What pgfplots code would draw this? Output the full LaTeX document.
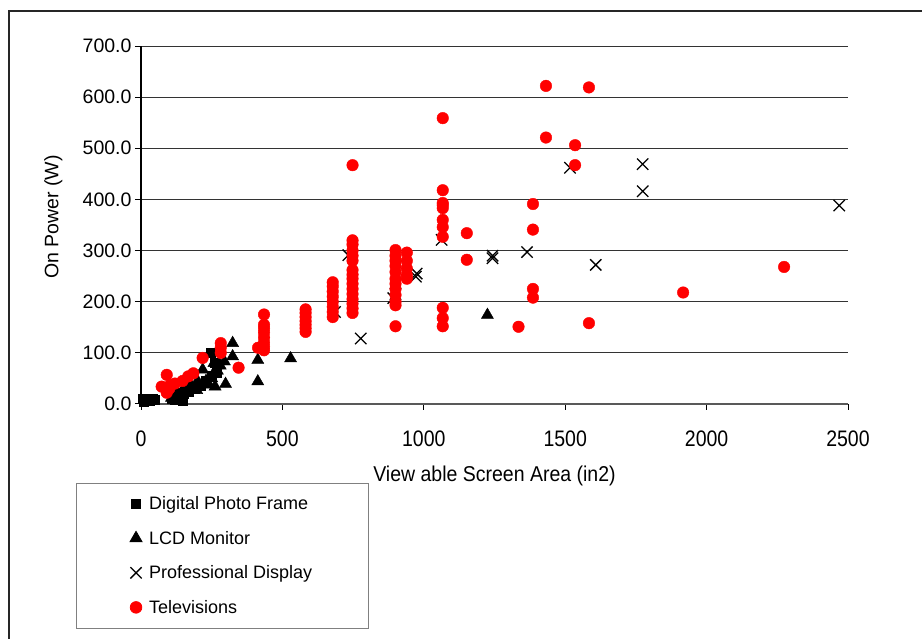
\documentclass[border=0pt]{standalone}
\usepackage{fontspec}
\setmainfont{Liberation Sans}
\usepackage{pgfplots}
\pgfplotsset{compat=1.18}

\begin{document}
\begin{tikzpicture}[x=1pt,y=1pt]
\draw[line width=2pt, black!85] (8.5,0) -- (8.5,628) -- (922,628);
\begin{axis}[
    scale only axis,
    width=707pt, height=358pt,
    at={(141pt,235pt)}, anchor=south west,
    xmin=0, xmax=2500, ymin=0, ymax=700,
    xtick={0,500,...,2500}, ytick={0,100,...,700},
    axis x line*=bottom, axis y line*=left,
    x axis line style={gray!70!black, line width=1.5pt},
    y axis line style={black, line width=1.3pt},
    tick align=outside, major tick length=6pt,
    tick style={black, line width=1pt},
    ymajorgrids, grid style={black!80, line width=1pt},
    /pgf/number format/assume math mode=true,
    /pgf/number format/1000 sep={},
    yticklabel style={/pgf/number format/.cd, fixed, fixed zerofill, precision=1},
    ticklabel style={font=\fontsize{19.5}{23}\selectfont},
    xticklabel style={yshift=-17pt, yscale=1.15},
    xlabel={View able Screen Area (in2)},
    ylabel={On Power (W)},
    label style={font=\fontsize{19.5}{23}\selectfont},
    xlabel style={at={(axis description cs:0.5,-0.2)}, anchor=center, yscale=1.1},
    ylabel style={at={(axis description cs:-0.124,0.522)}, anchor=center},
    legend style={at={(axis description cs:-0.0924,-0.2198)}, anchor=north west,
        draw=gray, line width=0.8pt, minimum width=292pt, minimum height=145pt,
        font=\fontsize{18}{21}\selectfont, row sep=16pt,
        nodes={minimum width=0pt, minimum height=0pt, inner sep=2pt},
        /tikz/every odd column/.append style={column sep=5pt}},
    legend cell align=left,
]
% Digital Photo Frame
\addplot[only marks, mark=square*, mark size=4.5pt, black] coordinates {
(5,10) (12,8) (20,9) (30,7) (40,10) (50,8) (8,5) (14,8) (49,8)
(110,10) (130,15) (150,20) (170,25) (190,30) (210,35) (230,45) (250,55)
(268,62) (248,100) (262,80) (120,8) (148,6)
};
\addlegendentry{Digital Photo Frame}
% LCD Monitor
\addplot[only marks, mark=triangle*, mark size=7pt, black] coordinates {
(1225,174) (529,89) (413,86) (413,44) (324,119) (324,93) (299,39) (295,83)
(258,80) (258,61) (218,67) (262,34) (218,40) (197,27) (180,30) (160,25)
(140,20) (120,15) (108,12) (230,45) (240,38) (200,45) (175,38) (150,28)
(130,22) (250,50) (270,65) (280,75)
};
\addlegendentry{LCD Monitor}
% Professional Display
\addplot[only marks, mark=x, mark size=8pt, black, line width=1.3pt] coordinates {
(1517,462) (1774,469) (1774,416) (2469,388) (1365,297) (1608,272) (733,291)
(1063,321) (1243,290) (1243,285) (972,249) (975,255) (892,207) (777,128)
(686,180) (900,215)
};
\addlegendentry{Professional Display}
% Televisions
\addplot[only marks, mark=*, mark size=5.8pt, red, mark options={fill=red, draw=red}] coordinates {
(748,467) (748,320) (748,312) (748,300) (748,290) (748,280) (748,262) (748,253)
(748,245) (748,235) (748,225) (748,215) (748,205) (748,196) (748,187) (748,178)
(678,238) (678,230) (678,220) (678,210) (678,200) (678,190) (678,180) (678,170)
(582,185) (582,178) (582,170) (582,162) (582,155) (582,148) (582,141)
(435,175) (435,155) (435,148) (435,140) (435,130) (435,120) (435,112) (435,105)
(414,110)
(900,301) (900,290) (900,280) (900,270) (900,258) (900,245) (900,235) (900,225)
(900,213) (900,200) (900,193) (900,152)
(940,296) (940,280) (940,265) (940,252) (940,245)
(1067,559) (1067,418) (1067,393) (1067,389) (1067,383) (1067,360) (1067,346)
(1067,327) (1067,188) (1067,168) (1067,152)
(1152,334) (1152,282)
(1335,151) (1386,391) (1386,341) (1386,225) (1386,208)
(1432,622) (1432,521) (1535,506) (1535,467) (1584,619) (1584,158)
(1917,218) (2274,268)
(345,71) (282,119) (282,110) (282,100) (218,90) (185,60) (167,54) (147,45)
(91,57) (73,34) (103,37) (91,22) (100,30) (120,40)
};
\addlegendentry{Televisions}
\end{axis}
\pgfresetboundingbox
\path[use as bounding box] (0,0) rectangle (922,639);
\end{tikzpicture}
\end{document}
